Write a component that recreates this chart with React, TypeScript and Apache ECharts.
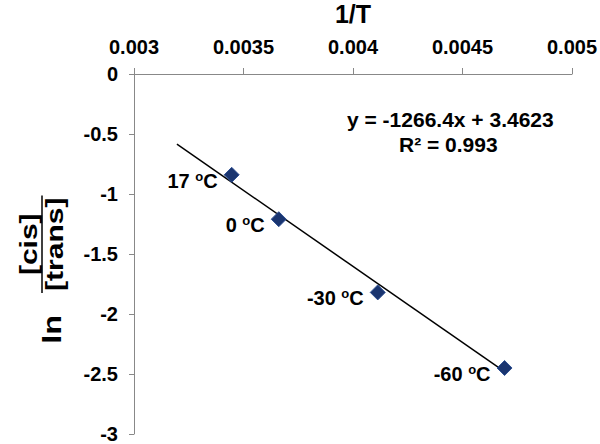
import React, { useEffect, useRef } from "react";
import * as echarts from "echarts";

// Data
const invT = [0.003446, 0.003661, 0.004113, 0.004692];
const lnRatio = [-0.84, -1.21, -1.82, -2.45];
const tempLabels = ["17", "0", "-30", "-60"];
const slope = -1266.4;
const intercept = 3.4623;
const rSquared = "0.993";
const trendRange = [0.003196, 0.004692];

const FONT = "'Liberation Sans', Arial, Helvetica, sans-serif";

export default function App() {
  const ref = useRef<HTMLDivElement>(null);
  useEffect(() => {
    if (!ref.current) return;
    document.body.style.margin = "0";
    const chart = echarts.init(ref.current, undefined, { renderer: "svg" });
    const trend = trendRange.map((x) => [x, slope * x + intercept]);
    const pts = invT.map((x, i) => [x, lnRatio[i]]);
    const fr = { fontFamily: FONT, fontWeight: "bold" as const, color: "#000" };
    chart.setOption({
      animation: false,
      backgroundColor: "#fff",
      textStyle: { fontFamily: FONT },
      grid: { left: 134, right: 28, top: 74, bottom: 10, outerBoundsMode: "none", containLabel: false },
      xAxis: {
        type: "value",
        position: "top",
        min: 0.003,
        max: 0.005,
        interval: 0.0005,
        name: "1/T",
        nameLocation: "middle",
        nameGap: 48,
        nameTextStyle: { ...fr, fontSize: 25 },
        axisLine: { onZero: false, lineStyle: { color: "#888", width: 1 } },
        axisTick: { show: true, length: 6, lineStyle: { color: "#888" } },
        axisLabel: {
          ...fr,
          fontSize: 20,
          margin: 17,
          formatter: (v: number) => String(+v.toFixed(4)),
        },
        splitLine: { show: false },
      },
      yAxis: {
        type: "value",
        min: -3,
        max: 0,
        interval: 0.5,
        axisLine: { show: true, onZero: false, lineStyle: { color: "#888", width: 1 } },
        axisTick: { show: true, length: 5, lineStyle: { color: "#888" } },
        axisLabel: { ...fr, fontSize: 20, margin: 16 },
        splitLine: { show: false },
      },
      graphic: [
        {
          type: "group",
          x: 42,
          y: 258,
          rotation: Math.PI / 2,
          scaleX: 1.25,
          children: [
            {
              type: "text",
              x: -57,
              y: 10,
              style: { text: "ln", font: `bold 26px ${FONT}`, fill: "#000", align: "center", verticalAlign: "middle" },
            },
            {
              type: "line",
              shape: { x1: -28, y1: 0, x2: 50, y2: 0 },
              style: { stroke: "#000", lineWidth: 1.5 },
            },
            {
              type: "text",
              x: 11,
              y: -1,
              style: { text: "[cis]", font: `bold 24px ${FONT}`, fill: "#000", align: "center", verticalAlign: "bottom" },
            },
            {
              type: "text",
              x: 11,
              y: 1,
              style: { text: "[trans]", font: `bold 24px ${FONT}`, fill: "#000", align: "center", verticalAlign: "top" },
            },
          ],
        },
        {
          type: "text",
          left: 347,
          top: 109,
          style: {
            text: `y = ${slope}x + ${intercept}`,
            font: `bold 21px ${FONT}`,
            fill: "#000",
          },
        },
        {
          type: "text",
          left: 399,
          top: 134,
          style: {
            text: `R² = ${rSquared}`,
            font: `bold 21px ${FONT}`,
            fill: "#000",
          },
        },
      ],
      series: [
        {
          type: "line",
          data: trend,
          symbol: "none",
          lineStyle: { color: "#000", width: 1.5 },
          z: 2,
        },
        {
          type: "scatter",
          data: pts,
          symbol: "diamond",
          symbolSize: 15,
          itemStyle: { color: "#1a3570", borderColor: "#2d4f92", borderWidth: 1, opacity: 1 },
          z: 3,
          label: {
            show: true,
            position: "left",
            distance: 6,
            offset: [0, 6],
            color: "#000",
            opacity: 1,
            textBorderWidth: 0,
            formatter: (p: any) => `{a|${tempLabels[p.dataIndex]} }{s|o}{a|C}`,
            rich: {
              a: { ...fr, fontSize: 20, lineHeight: 22, textBorderWidth: 0 },
              s: { ...fr, fontSize: 13, lineHeight: 22, verticalAlign: "top", textBorderWidth: 0 },
            },
          },
        },
      ],
    });
    return () => chart.dispose();
  }, []);
  return <div ref={ref} style={{ width: 600, height: 444 }} />;
}
